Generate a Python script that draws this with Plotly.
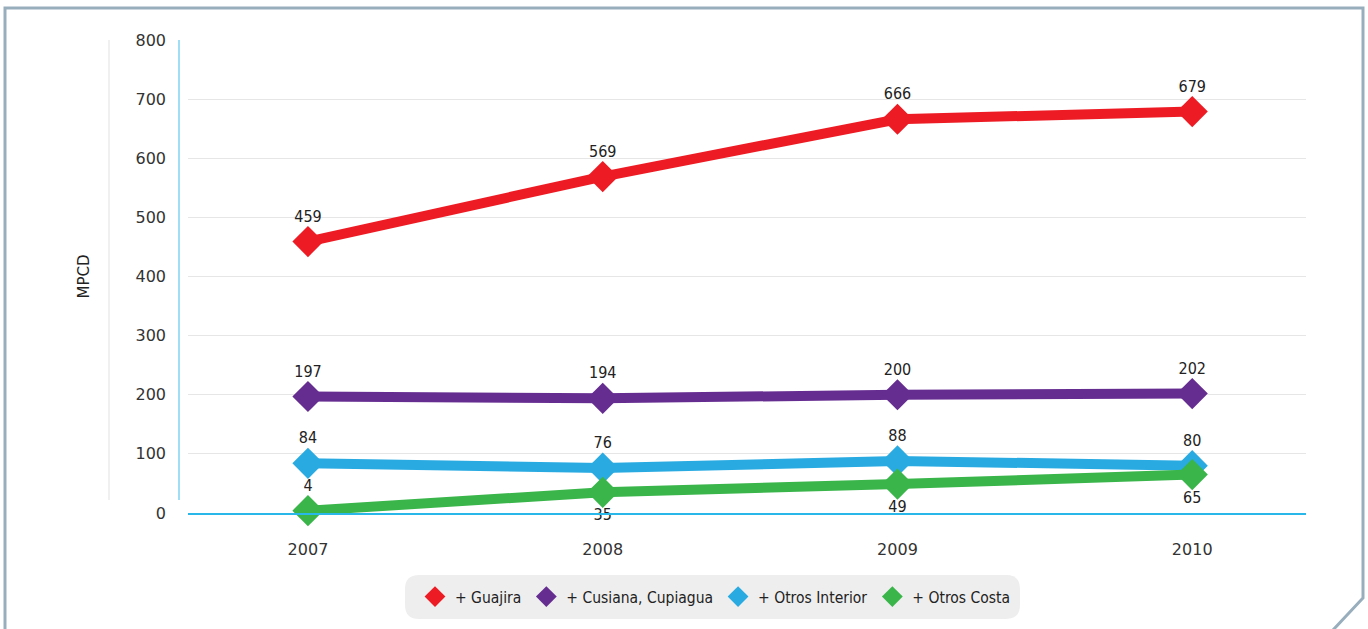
import plotly.graph_objects as go

years = ["2007", "2008", "2009", "2010"]
series_names = ["+ Guajira", "+ Cusiana, Cupiagua", "+ Otros Interior", "+ Otros Costa"]
guajira = [459, 569, 666, 679]
cusiana = [197, 194, 200, 202]
otros_interior = [84, 76, 88, 80]
otros_costa = [4, 35, 49, 65]
colors = ["#ED1C24", "#662D91", "#29ABE2", "#39B54A"]
y_ticks = [0, 100, 200, 300, 400, 500, 600, 700, 800]

values = [guajira, cusiana, otros_interior, otros_costa]
text_pos = [
    ["top center"] * 4,
    ["top center"] * 4,
    ["top center"] * 4,
    ["top center", "bottom center", "bottom center", "bottom center"],
]

narrow = "Liberation Sans Narrow, DejaVu Sans Condensed, Roboto, sans-serif"
label_font = dict(family=narrow, size=16, color="#222222")
tick_font = dict(family="DejaVu Sans, sans-serif", size=16, color="#333333")

fig = go.Figure()
for name, vals, col, tp in zip(series_names, values, colors, text_pos):
    fig.add_trace(go.Scatter(
        x=years, y=vals, name=name, mode="lines+markers+text",
        line=dict(color=col, width=10),
        marker=dict(symbol="diamond", size=24, color=col),
        text=[str(v) for v in vals], textposition=tp,
        textfont=label_font, cliponaxis=False, showlegend=False,
    ))
for name, col in zip(series_names, colors):
    fig.add_trace(go.Scatter(
        x=[None], y=[None], name=name, mode="markers",
        marker=dict(symbol="diamond", size=18, color=col), showlegend=True,
    ))

W, H = 1368, 629
L, R, T, B = 188, 62, 40, 116
pw, ph = W - L - R, H - T - B

def px(x):
    return (x - L) / pw

def py(y):
    return (H - B - y) / ph

frame = (f"M {px(5)},{py(640)} L {px(5)},{py(8)} L {px(1363)},{py(8)} "
         f"L {px(1363)},{py(598)} L {px(1333)},{py(630)}")

x0, x1, y0, y1, r = 405, 1020, 575, 619, 14
leg = (f"M {px(x0 + r)},{py(y0)} L {px(x1 - r)},{py(y0)} "
       f"Q {px(x1)},{py(y0)} {px(x1)},{py(y0 + r)} L {px(x1)},{py(y1 - r)} "
       f"Q {px(x1)},{py(y1)} {px(x1 - r)},{py(y1)} L {px(x0 + r)},{py(y1)} "
       f"Q {px(x0)},{py(y1)} {px(x0)},{py(y1 - r)} L {px(x0)},{py(y0 + r)} "
       f"Q {px(x0)},{py(y0)} {px(x0 + r)},{py(y0)} Z")

shapes = [
    dict(type="path", xref="paper", yref="paper", path=frame,
         line=dict(color="#98AEBD", width=3), layer="below"),
    dict(type="path", xref="paper", yref="paper", path=leg,
         fillcolor="#EEEEEE", line=dict(width=0), layer="below"),
    dict(type="line", xref="paper", yref="paper", x0=px(179), x1=px(179),
         y0=py(500), y1=py(40), line=dict(color="#7FD3F5", width=1.5), layer="below"),
    dict(type="line", xref="paper", yref="paper", x0=px(109), x1=px(109),
         y0=py(500), y1=py(40), line=dict(color="#EBEBEB", width=1.5), layer="below"),
]

fig.update_layout(
    width=W, height=H,
    margin=dict(l=L, r=R, t=T, b=B),
    paper_bgcolor="white", plot_bgcolor="white",
    showlegend=True,
    legend=dict(orientation="h", x=0.5 * (px(x0 + 6) + px(x1)), xanchor="center",
                y=py(597), yanchor="middle", bgcolor="rgba(0,0,0,0)",
                font=dict(family=narrow, size=15.5, color="#222222"),
                itemwidth=30, traceorder="normal"),
    xaxis=dict(range=[-0.407, 3.386], showgrid=False, zeroline=False,
               showline=True, linecolor="#29B6E8", linewidth=1.5,
               tickfont=tick_font, ticks="", ticklabelstandoff=21),
    yaxis=dict(range=[0, 800], tickvals=y_ticks, showgrid=True, gridcolor="#E6E6E6",
               gridwidth=1, zeroline=False, showline=False, tickfont=tick_font,
               ticks="", ticklabelstandoff=21,
               title=dict(text="MPCD", font=dict(family="DejaVu Sans, sans-serif", size=15, color="#222222"),
                          standoff=42)),
    shapes=shapes,
)

fig.write_html("out.html", config={"displayModeBar": False},
               post_script="document.body.style.margin='0';document.body.style.overflow='hidden';")
